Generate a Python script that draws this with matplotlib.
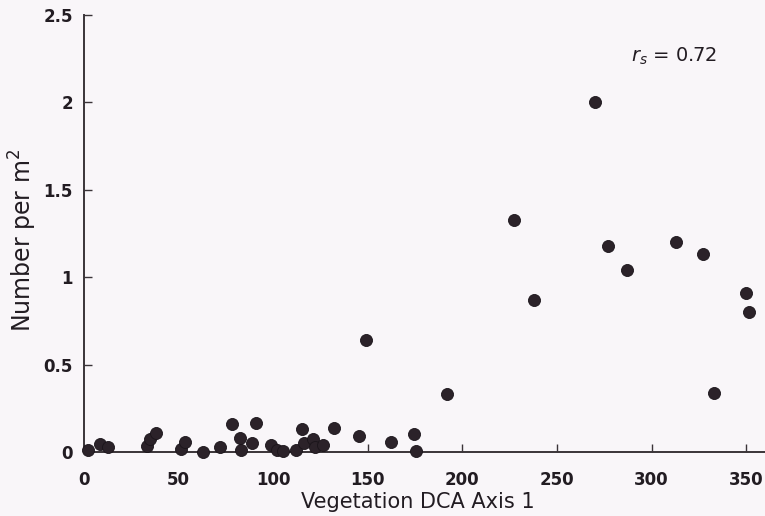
import matplotlib

matplotlib.use("Agg")
import matplotlib.pyplot as plt

# vegetation DCA axis 1 score vs density (number per m^2)
dca_low = [2, 8.5, 12.7, 33, 35, 38, 51, 53.5, 63, 72, 78, 82.5, 83, 89, 91, 99, 102,
           105, 112, 115, 116, 121, 122, 126.5, 132, 145.5, 162, 174.5, 175.5]
dens_low = [0.01, 0.045, 0.03, 0.035, 0.075, 0.11, 0.02, 0.06, 0.0, 0.03, 0.16, 0.08, 0.01,
            0.05, 0.165, 0.04, 0.01, 0.005, 0.01, 0.13, 0.05, 0.075, 0.03, 0.04, 0.14,
            0.09, 0.06, 0.105, 0.005]
dca_high = [149, 192, 227.5, 238, 270, 277, 287, 313, 327, 333, 350, 351.5]
dens_high = [0.64, 0.33, 1.33, 0.87, 2.0, 1.18, 1.04, 1.20, 1.13, 0.34, 0.91, 0.80]

x_ticks = [0, 50, 100, 150, 200, 250, 300, 350]
y_ticks = [0, 0.5, 1, 1.5, 2, 2.5]
y_labels = ["0", "0.5", "1", "1.5", "2", "2.5"]

bg = "#f9f6f9"
ink = "#221c22"

plt.rcParams["font.family"] = ["DejaVu Sans"]

fig = plt.figure(figsize=(7.65, 5.16), dpi=100, facecolor=bg)
ax = fig.add_axes([0.110, 0.124, 0.890, 0.847], facecolor=bg)

ax.scatter(dca_low + dca_high, dens_low + dens_high, s=75, color="#2b2229",
           edgecolors="#1a141a", linewidths=0.6, zorder=3, clip_on=False)

ax.set_xlim(0, 360)
ax.set_ylim(0, 2.5)
ax.set_xticks(x_ticks)
ax.set_yticks(y_ticks)
ax.set_yticklabels(y_labels)

for side in ["top", "right"]:
    ax.spines[side].set_visible(False)
for side in ["left", "bottom"]:
    ax.spines[side].set_color("#3a3438")
    ax.spines[side].set_linewidth(1.4)

ax.tick_params(direction="in", length=6, width=1, color="#3a3438", labelcolor=ink,
               labelsize=12)
ax.tick_params(axis="x", pad=14)
ax.tick_params(axis="y", pad=8)
for lab in ax.get_xticklabels() + ax.get_yticklabels():
    lab.set_fontweight("bold")

ax.set_xlabel("Vegetation DCA Axis 1", fontsize=15, color=ink, labelpad=1.5)
ax.xaxis.label.set_x(0.49)
ax.set_ylabel("Number per m$^2$", fontsize=17, color=ink, labelpad=3)
ax.yaxis.label.set_y(0.484)

ax.text(289, 2.23, "$r_s$ = 0.72", fontsize=14, color=ink, va="baseline")

fig.savefig("out.png", dpi=100, facecolor=bg)
